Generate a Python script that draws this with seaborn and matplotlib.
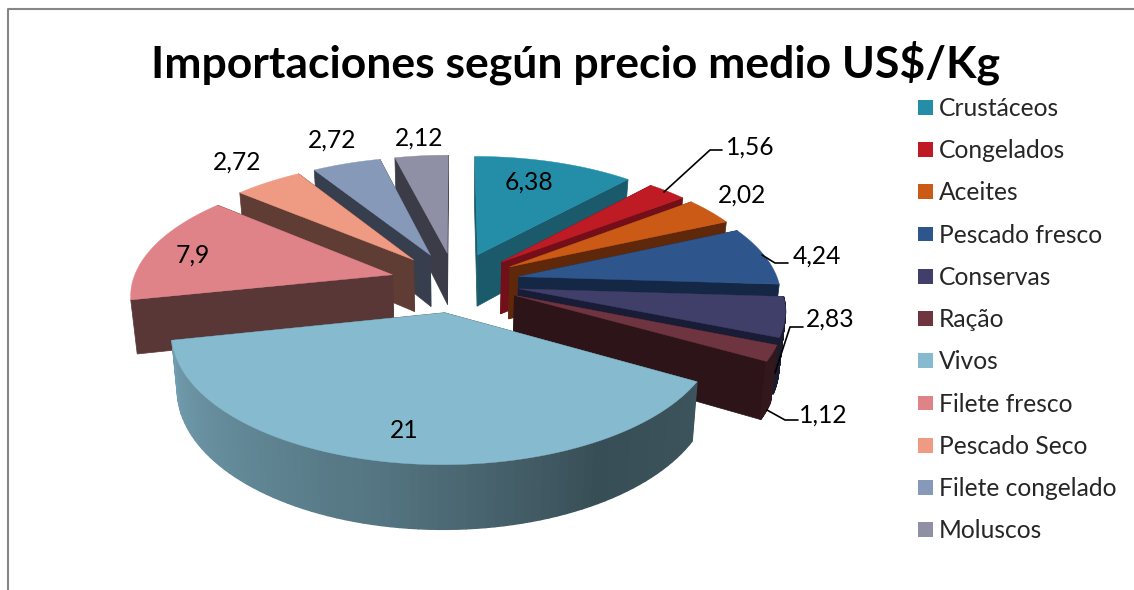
import matplotlib
matplotlib.use("Agg")
import matplotlib.pyplot as plt
from matplotlib.patches import Patch
import numpy as np
import seaborn as sns

categories = ["Crustáceos", "Congelados", "Aceites", "Pescado fresco", "Conservas", "Ração",
              "Vivos", "Filete fresco", "Pescado Seco", "Filete congelado", "Moluscos"]
values = [6.38, 1.56, 2.02, 4.24, 2.83, 1.12, 21, 7.9, 2.72, 2.72, 2.12]
value_labels = ["6,38", "1,56", "2,02", "4,24", "2,83", "1,12", "21", "7,9", "2,72", "2,72", "2,12"]

top_colors = ["#248EA8", "#BE1B24", "#CC5A17", "#2F568C", "#3F3F69", "#6E3440",
              "#86BACE", "#E08388", "#EF9A82", "#8799B8", "#8F8FA6"]
wall_colors = ["#1A5A6B", "#730F19", "#5F280A", "#142846", "#191C37", "#2D1419",
               "#3A4F5A", "#5A3737", "#5F3C34", "#373E4E", "#3C3C48"]

# where the labels sit, and leader lines for the outside ones
label_pos = [(529, 182), (750, 147), (742, 195), (817, 256), (830, 319), (823, 415),
             (404, 430), (193, 255), (237, 162), (332, 140), (419, 138)]
leaders = [[(664, 192), (710, 150), (722, 150)],
           [(762, 255), (775, 263), (788, 263)],
           [(775, 373), (790, 327), (803, 327)],
           [(767, 410), (785, 420), (798, 420)]]

# fake 3d camera, numbers fitted on the picture
CX, CY = 455, 282
SCALE_X, SCALE_Y = 260, 120
PERSP = 0.145
EXPLODE = 0.25
DEPTH = 53
BOTTOM_SHRINK = 0.98


def project(x, y):
    p = 1 / (1 + PERSP * y)
    sx = CX + SCALE_X * x * p
    sy = CY - SCALE_Y * y * p
    # same point at the bottom of the slab
    bx = CX + (sx - CX) * BOTTOM_SHRINK
    by = sy + DEPTH * p
    return sx, sy, bx, by


def shade(theta):
    # lighting of the round outer wall, light on the left, dark on the right
    return np.interp(theta, [120, 150, 190, 258], [0.45, 0.42, 0.62, 0.85])


def draw_slice(ax, start, end, top, wall):
    mid = np.radians((start + end) / 2)
    ox, oy = EXPLODE * np.sin(mid), EXPLODE * np.cos(mid)
    thetas = np.linspace(start, end, 80)
    xs = ox + np.sin(np.radians(thetas))
    ys = oy + np.cos(np.radians(thetas))
    sx, sy, bx, by = project(xs, ys)
    ax_, ay_, abx, aby = project(ox, oy)

    # flat cut faces, the one further back goes first
    faces = [(0, (sy[0] + ay_) / 2), (-1, (sy[-1] + ay_) / 2)]
    for i, _ in sorted(faces, key=lambda f: f[1]):
        ax.fill([ax_, sx[i], bx[i], abx], [ay_, sy[i], by[i], aby],
                color=wall, lw=0.5, zorder=ax.zz)
        ax.zz += 1

    # round wall, only for slices in the front half
    rgb = np.array(matplotlib.colors.to_rgb(top))
    if np.cos(mid) < 0:
        for i in range(len(thetas) - 1):
            t = (thetas[i] + thetas[i + 1]) / 2
            c = rgb * shade(t)
            ax.fill([sx[i], sx[i + 1], bx[i + 1], bx[i]], [sy[i], sy[i + 1], by[i + 1], by[i]],
                    color=c, lw=1.0, zorder=ax.zz)
    ax.zz += 1

    ax.fill(np.r_[ax_, sx], np.r_[ay_, sy], color=top, lw=0.3, zorder=ax.zz)
    ax.zz += 1


sns.set_theme(style="white")
plt.rcParams['font.family'] = ['Lato', 'DejaVu Sans']

fig = plt.figure(figsize=(11.34, 5.9), dpi=100)
ax = fig.add_axes([0, 0, 1, 1])
ax.set_xlim(0, 1134)
ax.set_ylim(590, 0)
ax.axis("off")
ax.zz = 5

palette = sns.color_palette(top_colors)

# slices go clockwise from 12 o'clock
angles = np.cumsum([0] + values) / sum(values) * 360
order = sorted(range(len(values)), key=lambda i: -np.cos(np.radians((angles[i] + angles[i + 1]) / 2)))
for i in order:
    draw_slice(ax, angles[i], angles[i + 1], palette[i], wall_colors[i])

for txt, (x, y) in zip(value_labels, label_pos):
    ax.text(x, y, txt, fontsize=17.7, color="black", ha="center", va="center", zorder=100)
for line in leaders:
    ax.plot([p[0] for p in line], [p[1] for p in line], color="black", lw=1.2, zorder=99)

# chart frame, only top and left show in the screenshot
ax.plot([8, 8, 1134], [590, 9, 9], color="#868686", lw=1.5, zorder=1)

ax.text(575.5, 63, "Importaciones según precio medio US$/Kg", fontsize=32, fontweight="bold",
        color="black", ha="center", va="center", zorder=100)

handles = [Patch(facecolor=c, edgecolor="none", label=n) for c, n in zip(palette, categories)]
ax.legend(handles=handles, loc="upper left", bbox_to_anchor=(918 / 1134, 1 - 97 / 590), frameon=False,
          fontsize=17.7, labelspacing=0.783, handlelength=0.62, handleheight=0.55,
          handletextpad=0.22, borderpad=0, borderaxespad=0)

plt.savefig("out.png", dpi=100)
plt.close()
